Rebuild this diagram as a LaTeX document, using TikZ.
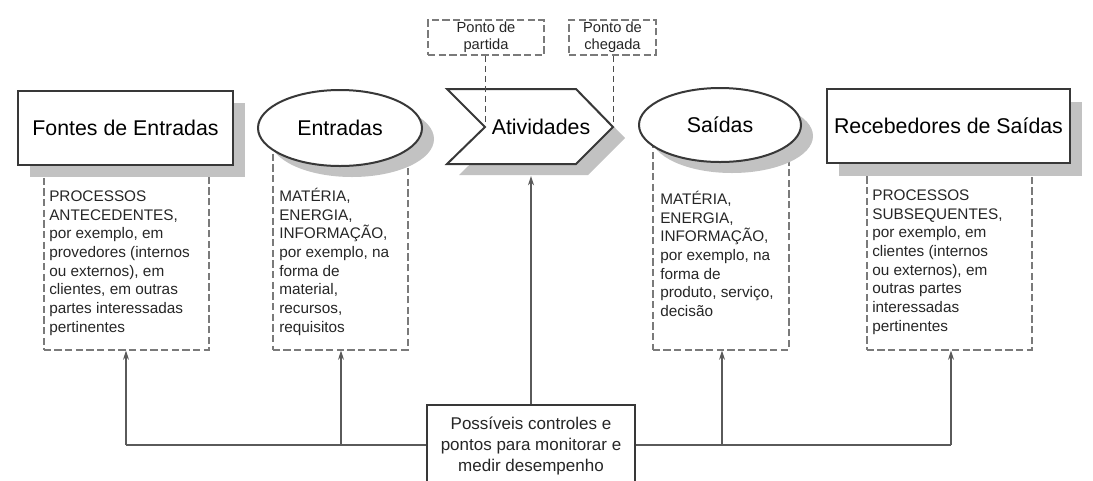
\documentclass[tikz,border=0pt]{standalone}
\usepackage{fontspec}
\setmainfont{Liberation Sans}
\usetikzlibrary{arrows.meta,shapes.geometric}
\definecolor{shadowgray}{HTML}{C2C2C2}
\definecolor{boxline}{HTML}{383838}
\definecolor{dashline}{HTML}{7A7A7A}
\definecolor{connline}{HTML}{5A5A5A}
\definecolor{txt}{HTML}{262626}
\begin{document}
\begin{tikzpicture}[x=0.75pt,y=-0.75pt,
  mainbox/.style={draw=boxline,line width=1.5pt,fill=white,inner sep=0pt},
  shadowbox/.style={fill=shadowgray,draw=none,inner sep=0pt},
  dashbox/.style={draw=dashline,line width=1.15pt,dash pattern=on 5.5pt off 2.5pt,inner sep=0pt},
  leader/.style={draw=boxline!90,line width=0.75pt,dash pattern=on 5pt off 2.5pt},
  conn/.style={draw=connline,line width=0.9pt},
  arr/.style={conn,-{Stealth[length=7pt,width=4.5pt]}},
  title/.style={font=\fontsize{16}{19}\selectfont,text=black},
  smalltext/.style={font=\fontsize{11.5}{14}\selectfont,text=txt,align=left,inner sep=0pt,anchor=north west},
  pontotext/.style={font=\fontsize{11}{12.75}\selectfont,text=txt,align=center},
]
\useasboundingbox (0,0) rectangle (1093,480);

% dashed description boxes
\node[dashbox,minimum width=123.75pt,minimum height=156.75pt,anchor=north west] (fontesd) at (43,140) {};
\node[dashbox,minimum width=101.25pt,minimum height=164.25pt,anchor=north west] (entd) at (272,130) {};
\node[dashbox,minimum width=102pt,minimum height=164.25pt,anchor=north west] (saidd) at (652,130) {};
\node[dashbox,minimum width=123.75pt,minimum height=149.25pt,anchor=north west] (recd) at (866,150) {};

% shadows
\node[shadowbox,minimum width=161.25pt,minimum height=55.5pt] (fontess) at (137.5,140) {};
\node[shadowbox,ellipse,minimum width=123pt,minimum height=57pt] (entss) at (352,139) {};
\fill[shadowgray] (459,100) -- (588,100) -- (625,138) -- (588,175) -- (459,175) -- (497,138) -- cycle;
\node[shadowbox,ellipse,minimum width=121.5pt,minimum height=55.5pt] (saidss) at (732,136) {};
\node[shadowbox,minimum width=182.25pt,minimum height=55.5pt] (recss) at (960.5,139) {};

% main shapes
\node[mainbox,minimum width=161.25pt,minimum height=55.5pt,title] (fontes) at (125.5,128) {Fontes de Entradas};
\node[mainbox,ellipse,minimum width=123pt,minimum height=57pt,title] (entradas) at (340,128) {Entradas};
\draw[draw=boxline,line width=1.5pt,fill=white,line join=miter]
  (447,89) coordinate (c1) -- (576,89) -- (613,127) coordinate (tip) -- (576,164) -- (447,164) -- (485,127) coordinate (notch) -- cycle;
\node[title] (ativ) at (541,127) {Atividades};
\node[mainbox,ellipse,minimum width=121.5pt,minimum height=55.5pt,title] (saidas) at (720,125) {Saídas};
\node[mainbox,minimum width=182.25pt,minimum height=55.5pt,title] (receb) at (948.5,126) {Recebedores de Saídas};

% texts in dashed boxes
\node[smalltext] (fontest) at (49,188) {\strut PROCESSOS\\ANTECEDENTES,\\por exemplo, em\\provedores (internos\\ou externos), em\\clientes, em outras\\partes interessadas\\pertinentes};
\node[smalltext] (entt) at (279,188) {\strut MATÉRIA,\\ENERGIA,\\INFORMAÇÃO,\\por exemplo, na\\forma de\\material,\\recursos,\\requisitos};
\node[smalltext] (saidt) at (660,191) {\strut MATÉRIA,\\ENERGIA,\\INFORMAÇÃO,\\por exemplo, na\\forma de\\produto, serviço,\\decisão};
\node[smalltext] (rect) at (872,187) {\strut PROCESSOS\\SUBSEQUENTES,\\por exemplo, em\\clientes (internos\\ou externos), em\\outras partes\\interessadas\\pertinentes};

% ponto boxes
\node[dashbox,minimum width=87pt,minimum height=26.25pt,pontotext] (partida) at (486,37.5) {Ponto de\\partida};
\node[dashbox,minimum width=65.25pt,minimum height=26.25pt,pontotext] (chegada) at (612.5,37.5) {Ponto de\\chegada};
\draw[leader] (notch |- partida.south) -- (notch);
\draw[leader] (tip |- chegada.south) -- (tip);

% control connectors
\coordinate (h1) at (126,445);
\coordinate (h2) at (341,445);
\coordinate (h3) at (722,445);
\coordinate (h4) at (951,445);
\coordinate (ativb) at (531,176);
\draw[conn] (h1) -- (h4);
\draw[arr] (h1) -- (h1 |- fontesd.south);
\draw[arr] (h2) -- (h2 |- entd.south);
\draw[arr] (h3) -- (h3 |- saidd.south);
\draw[arr] (h4) -- (h4 |- recd.south);

\node[mainbox,minimum width=156pt,minimum height=72pt,anchor=north] (ctrlbox) at (531,404) {};
\draw[arr] (ctrlbox.north) -- (ativb);
\node[font=\fontsize{12.75}{15.75}\selectfont,text=txt,align=center] (ctrl) at (531,446) {Possíveis controles e\\pontos para monitorar e\\medir desempenho};
\end{tikzpicture}
\end{document}
